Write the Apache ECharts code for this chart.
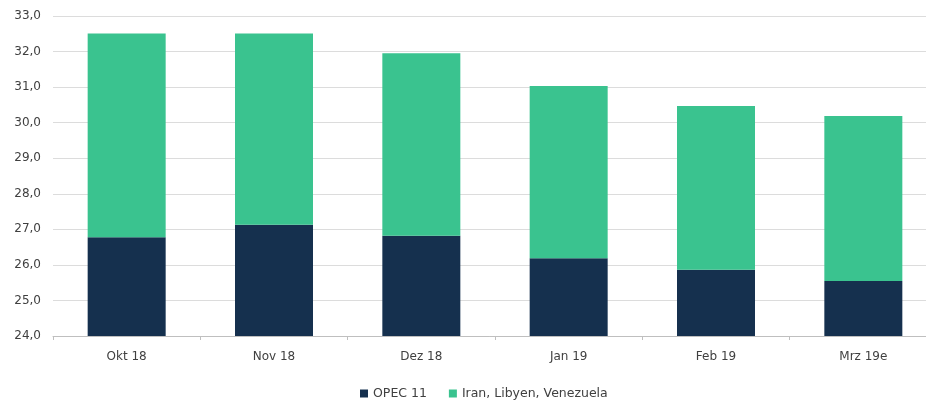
<!DOCTYPE html>
<html><head><meta charset="utf-8">
<script src="https://cdn.jsdelivr.net/npm/echarts@6/dist/echarts.min.js"></script>
<style>html,body{margin:0;padding:0;background:#fff}#c{width:926px;height:401px}</style>
</head><body><div id="c"></div>
<script>
const categories = ['Okt 18','Nov 18','Dez 18','Jan 19','Feb 19','Mrz 19e'];
const opec11 = [26.78, 27.13, 26.82, 26.19, 25.86, 25.55];
const iranLibyenVenezuela = [5.73, 5.38, 5.13, 4.84, 4.61, 4.64];
const seriesNames = ['OPEC 11','Iran, Libyen, Venezuela'];

const chart = echarts.init(document.getElementById('c'));
chart.setOption({
  animation:false,
  textStyle:{fontFamily:'DejaVu Sans'},
  grid:{left:53, width:884, top:16, height:320, outerBoundsMode:'none', containLabel:false},
  legend:{
    top:382, left:355,
    itemWidth:8, itemHeight:8, itemGap:22,
    textStyle:{color:'#404040', fontSize:12.5, fontFamily:'DejaVu Sans'},
    data:seriesNames.map(n=>({name:n, icon:'rect'}))
  },
  xAxis:{
    type:'category', data:categories,
    axisLine:{lineStyle:{color:'#bfbfbf'}},
    axisTick:{show:true, length:4, lineStyle:{color:'#bfbfbf'}},
    axisLabel:{color:'#404040', fontSize:12, margin:15, fontFamily:'DejaVu Sans'}
  },
  yAxis:{
    type:'value', min:24, max:33, interval:1,
    axisLine:{show:false}, axisTick:{show:false},
    splitLine:{lineStyle:{color:'#dcdcdc', width:1}},
    axisLabel:{color:'#404040', fontSize:12, margin:12, fontFamily:'DejaVu Sans',
      formatter:v=>v.toFixed(1).replace('.',',')}
  },
  series:[
    {name:seriesNames[0], type:'bar', stack:'s', data:opec11, barWidth:78,
     itemStyle:{color:'#15304e'}},
    {name:seriesNames[1], type:'bar', stack:'s', data:iranLibyenVenezuela, barWidth:78,
     itemStyle:{color:'#3ac38f'}}
  ]
});
</script></body></html>
